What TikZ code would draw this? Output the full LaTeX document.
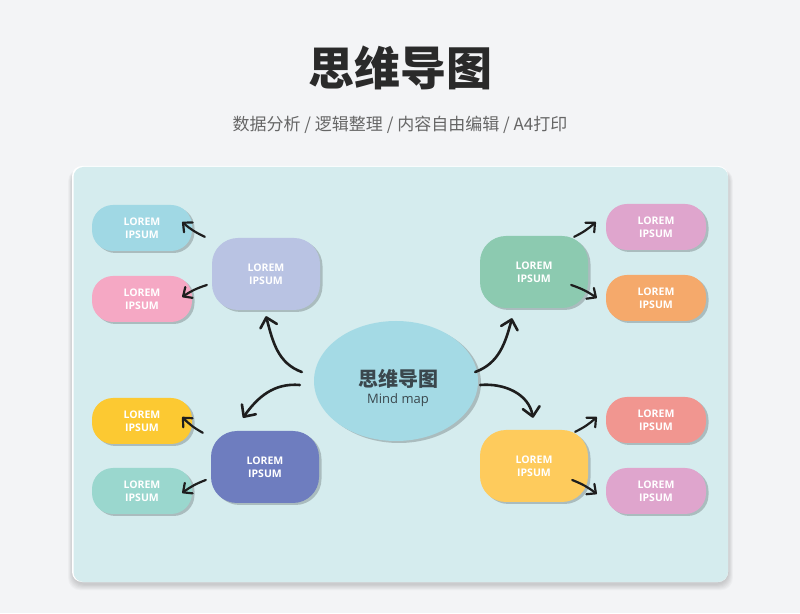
\documentclass[tikz,border=0pt]{standalone}
\usepackage{fontspec}
\setmainfont{Open Sans}
\newfontfamily\cjk{Noto Sans CJK SC}
\usetikzlibrary{shapes.geometric,shadows,arrows.meta}
\definecolor{bgc}{HTML}{F3F4F6}
\definecolor{cardc}{HTML}{D5ECEE}
\definecolor{centerc}{HTML}{A4DAE5}
\definecolor{lavc}{HTML}{B9C3E3}
\definecolor{greenc}{HTML}{8CCAB0}
\definecolor{bluec}{HTML}{6E7DBF}
\definecolor{yelc}{HTML}{FECB5C}
\definecolor{cyanc}{HTML}{A0D8E4}
\definecolor{pinkc}{HTML}{F5A8C4}
\definecolor{yelsc}{HTML}{FCC932}
\definecolor{tealc}{HTML}{9AD7CE}
\definecolor{purpc}{HTML}{DFA5CD}
\definecolor{orangec}{HTML}{F5A96B}
\definecolor{salmonc}{HTML}{F19690}
\definecolor{arrc}{HTML}{1E1E1E}
\definecolor{titlec}{HTML}{2A2A2A}
\definecolor{subc}{HTML}{666666}
\definecolor{ctextc}{HTML}{3A474D}
\newcommand\boxfont{\bfseries\fontsize{10.5}{12.5}\selectfont}
\begin{document}
\begin{tikzpicture}[x=1pt,y=1pt,
  boxshadow/.style={drop shadow={shadow xshift=2.5pt, shadow yshift=-2pt, opacity=.2, fill=black}},
  bigbox/.style={rectangle, rounded corners=26pt, minimum width=108pt, minimum height=72pt,
    inner sep=0pt, text=white, align=center, font=\boxfont, boxshadow},
  smallbox/.style={rectangle, rounded corners=21pt, minimum width=100pt, minimum height=46pt,
    inner sep=0pt, text=white, align=center, font=\boxfont, boxshadow},
  arr/.style={draw=arrc, line width=2.6pt, line cap=round,
    -{Straight Barb[length=9pt,width=17pt,round]}},
  sarr/.style={draw=arrc, line width=2.2pt, line cap=round,
    -{Straight Barb[length=7pt,width=13pt,round]}},
  cardshadow/.style={fill=black, fill opacity=0.025, rounded corners=12pt}
]
\useasboundingbox (0,0) rectangle (800,613);
\fill[bgc] (0,0) rectangle (800,613);
\foreach \d in {1,2,...,7}{
  \fill[cardshadow] ({73-\d*0.7},{29-\d*0.9}) rectangle ({728+\d*0.7},444);
}
\fill[white, rounded corners=10pt] (72,31) rectangle (728,447);
\fill[cardc, rounded corners=10pt] (73.5,31) rectangle (728,446);

\node[text=titlec] (title) at (400,545) {\cjk\bfseries\fontsize{46}{50}\selectfont 思维导图};
\node[text=subc] (sub) at (400,488) {\cjk\fontsize{17}{20}\selectfont 数据分析 / 逻辑整理 / 内容自由编辑 / A4打印};

\node[ellipse, fill=centerc, minimum width=164pt, minimum height=120pt, inner sep=0pt,
  drop shadow={shadow xshift=3pt, shadow yshift=-2pt, opacity=.2, fill=black}] (center) at (396,232) {};
\node[text=ctextc] (ctitle) at (398,234) {\cjk\bfseries\fontsize{20}{22}\selectfont 思维导图};
\node[text=ctextc] (csub) at (398,213) {\fontsize{13}{15}\selectfont Mind map};

\node[bigbox, fill=lavc] (lav) at (266,339) {LOREM\\IPSUM};
\node[bigbox, fill=greenc] (green) at (534,341) {LOREM\\IPSUM};
\node[bigbox, fill=bluec] (blue) at (265,146) {LOREM\\IPSUM};
\node[bigbox, fill=yelc] (yel) at (534,147) {LOREM\\IPSUM};

\node[smallbox, fill=cyanc] (cyan) at (142,385) {LOREM\\IPSUM};
\node[smallbox, fill=pinkc] (pink) at (142,314) {LOREM\\IPSUM};
\node[smallbox, fill=yelsc] (yels) at (142,192) {LOREM\\IPSUM};
\node[smallbox, fill=tealc] (teal) at (142,122) {LOREM\\IPSUM};
\node[smallbox, fill=purpc] (purpa) at (656,386) {LOREM\\IPSUM};
\node[smallbox, fill=orangec] (orange) at (656,315) {LOREM\\IPSUM};
\node[smallbox, fill=salmonc] (salmon) at (656,193) {LOREM\\IPSUM};
\node[smallbox, fill=purpc] (purpb) at (656,122) {LOREM\\IPSUM};

% main arrows
\draw[arr] ([shift={(-12,9)}]center.west) to[out=160,in=-75] ([shift={(0,-6)}]lav.south);
\draw[arr] ([shift={(-14,-4)}]center.west) to[out=175,in=55] ([shift={(-22,13)}]blue.north);
\draw[arr] ([shift={(-3,9)}]center.east) to[out=20,in=-105] ([shift={(-22,-10)}]green.south);
\draw[arr] ([shift={(2,-4)}]center.east) to[out=5,in=100] ([shift={(-1,12)}]yel.north);

% secondary arrows
\draw[sarr] ([shift={(-7,1)}]lav.north west) to[bend left=8] ([shift={(-10,6)}]cyan.east);
\draw[sarr] ([shift={(-5,-11)}]lav.west) to[bend right=8] ([shift={(-10,2)}]pink.east);
\draw[sarr] ([shift={(-8,-2)}]blue.north west) to[bend left=8] ([shift={(-10,4)}]yels.east);
\draw[sarr] ([shift={(-5,-13)}]blue.west) to[bend right=8] ([shift={(-10,-2)}]teal.east);
\draw[sarr] ([shift={(-14,-1)}]green.north east) to[bend right=8] ([shift={(-10,5)}]purpa.west);
\draw[sarr] ([shift={(-17,-13)}]green.east) to[bend left=8] ([shift={(-9,0)}]orange.west);
\draw[sarr] ([shift={(-13,-2)}]yel.north east) to[bend right=8] ([shift={(-9,3)}]salmon.west);
\draw[sarr] ([shift={(-16,-14)}]yel.east) to[bend left=8] ([shift={(-9,-3)}]purpb.west);
\end{tikzpicture}
\end{document}
